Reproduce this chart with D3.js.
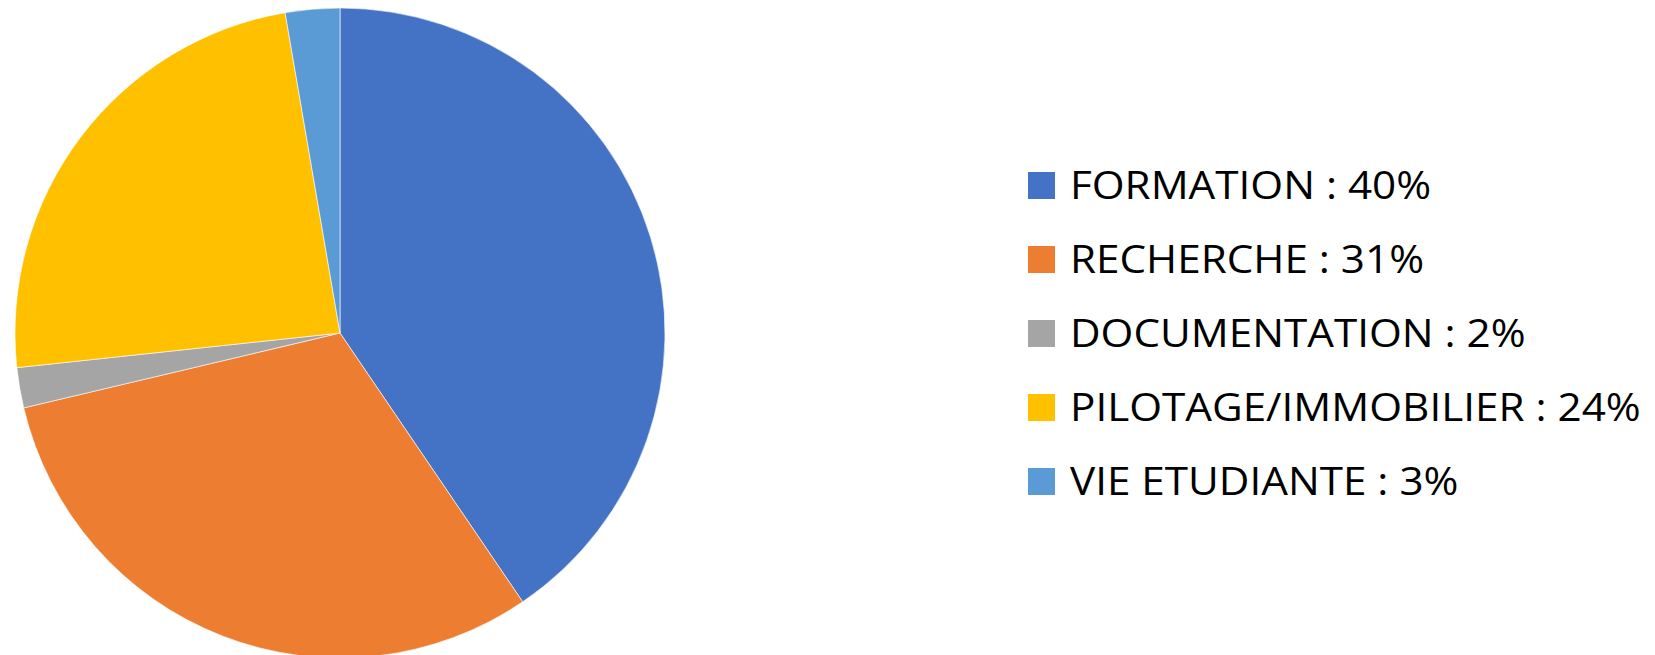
<!DOCTYPE html>
<html>
<head>
<meta charset="utf-8">
<script src="https://cdn.jsdelivr.net/npm/d3@7"></script>
<style>
	html, body { margin: 0; padding: 0; background: #ffffff; }
</style>
</head>
<body>
<div id="chart"></div>
<script>
// data
var categories = ["FORMATION", "RECHERCHE", "DOCUMENTATION", "PILOTAGE/IMMOBILIER", "VIE ETUDIANTE"];
var values = [40.5, 30.8, 2.0, 24.0, 2.7];
var pctLabels = ["40%", "31%", "2%", "24%", "3%"];
var colors = ["#4472C4", "#ED7D31", "#A5A5A5", "#FFC000", "#5B9BD5"];

var width = 1655, height = 655;

var svg = d3.select("#chart").append("svg")
	.attr("width", width)
	.attr("height", height);

var pieData = categories.map(function (c, i) {
	return {"name": c, "value": values[i], "color": colors[i], "pct": pctLabels[i]};
});

var pie = d3.pie()
	.sort(null)
	.value(d => d.value);

var radius = 325;
var arc = d3.arc()
	.innerRadius(0)
	.outerRadius(radius);

var pieG = svg.append("g")
	.attr("transform", "translate(340,333)");

pieG.selectAll(".slice")
	.data(pie(pieData))
	.enter()
	.append("path")
		.attr("class", "slice")
		.attr("d", arc)
		.attr("fill", d => d.data.color)
		.attr("stroke", "#ffffff")
		.attr("stroke-width", 0.6);

// legend
var legendG = svg.append("g")
	.attr("transform", "translate(1028,172)");

var rowH = 74;
var rows = legendG.selectAll(".legendRow")
	.data(pieData)
	.enter()
	.append("g")
		.attr("class", "legendRow")
		.attr("transform", (d, i) => "translate(0," + (i * rowH) + ")");

rows.append("rect")
	.attr("width", 27)
	.attr("height", 27)
	.attr("fill", d => d.color);

var labels = rows.append("text")
	.attr("x", 42)
	.attr("y", 26.5)
	.attr("font-family", "Open Sans, sans-serif")
	.attr("font-size", "39px")
	.attr("fill", "#000000")
	.text(d => d.name + " : " + d.pct);

// squeeze text horizontally to match the narrow Calibri look
var targetW = 571;
var maxW = d3.max(labels.nodes(), n => n.getComputedTextLength());
var sx = targetW / maxW;
labels.attr("transform", "translate(42,0) scale(" + sx + ",1) translate(-42,0)");
</script>
</body>
</html>
